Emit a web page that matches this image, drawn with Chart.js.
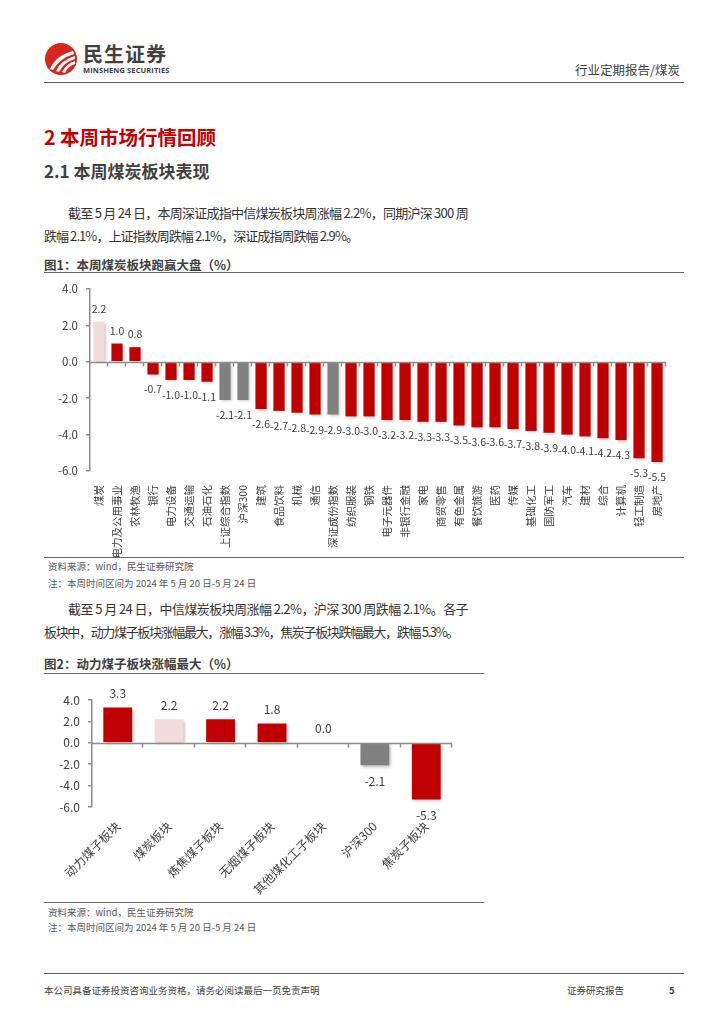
<!DOCTYPE html>
<html lang="zh-CN">
<head>
<meta charset="utf-8">
<script src="https://cdn.jsdelivr.net/npm/chart.js@4.4.1/dist/chart.umd.min.js"></script>
<style>
  html, body { margin: 0; padding: 0; background: #fff; }
  body {
    width: 724px; height: 1024px; position: relative; overflow: hidden;
    font-family: "Noto Sans CJK SC", "Noto Sans", sans-serif; color: #333;
  }
  .t { position: absolute; white-space: nowrap; }
  .rule { position: absolute; height: 0; border-top: 1.5px solid #666; }
  .para { font-size: 13px; line-height: 20px; color: #333; }
  .figTitle { font-size: 12.5px; line-height: 16px; font-weight: 700; color: #404040; }
  .src { font-size: 9.5px; line-height: 12px; color: #595959; }
  .foot { font-size: 9.5px; line-height: 14px; color: #404040; }
  canvas { position: absolute; }
</style>
</head>
<body>

<!-- header -->
<svg class="t" style="left:44px; top:42px;" width="36" height="36" viewBox="0 0 36 36">
  <circle cx="17" cy="17" r="16" fill="#d7261e"/>
  <path d="M6,27 Q12,13 29,9 L30,12 Q16,16 9,28 Z" fill="#fff"/>
  <path d="M12,29 Q17,18 31,14 L31,17 Q20,20 15,30 Z" fill="#fff"/>
  <path d="M18,30 Q22,22 31,19 L31,22 Q24,24 21,31 Z" fill="#fff"/>
</svg>
<div class="t" style="left:83px; top:42px; font-size:20px; line-height:24px; font-weight:700; color:#404040; letter-spacing:1px;">民生证券</div>
<div class="t" style="left:83px; top:66px; font-size:7.5px; line-height:9px; font-weight:700; color:#404040; font-family:'Open Sans',sans-serif; letter-spacing:0.1px;">MINSHENG SECURITIES</div>
<div class="t" style="right:44px; top:62px; font-size:12.5px; line-height:16px; color:#404040;">行业定期报告/煤炭</div>
<div class="rule" style="left:44px; top:82px; width:640px; border-color:#595959;"></div>

<!-- headings -->
<div class="t" style="left:44px; top:124px; font-size:19.5px; line-height:26px; font-weight:700; color:#c00000;">2 本周市场行情回顾</div>
<div class="t" style="left:44px; top:160px; font-size:17px; line-height:22px; font-weight:700; color:#404040;">2.1 本周煤炭板块表现</div>

<div class="t para" data-w="400" style="left:68px; top:203px;">截至 5 月 24 日，本周深证成指中信煤炭板块周涨幅 2.2%，同期沪深 300 周</div>
<div class="t para" data-w="314" style="left:44px; top:226px;">跌幅 2.1%，上证指数周跌幅 2.1%，深证成指周跌幅 2.9%。</div>

<!-- figure 1 -->
<div class="t figTitle" style="left:44px; top:257px;">图1：本周煤炭板块跑赢大盘（%）</div>
<div class="rule" style="left:44px; top:272px; width:640px;"></div>
<canvas id="chart1" width="640" height="283" style="left:44px; top:274px;"></canvas>
<div class="rule" style="left:44px; top:557px; width:640px;"></div>
<div class="t src" style="left:48px; top:560px;">资料来源：wind，民生证券研究院</div>
<div class="t src" style="left:48px; top:577px;">注：本周时间区间为 2024 年 5 月 20 日-5 月 24 日</div>

<div class="t para" data-w="400" style="left:68px; top:599px;">截至 5 月 24 日，中信煤炭板块周涨幅 2.2%，沪深 300 周跌幅 2.1%。各子</div>
<div class="t para" data-w="414" style="left:44px; top:622px;">板块中，动力煤子板块涨幅最大，涨幅 3.3%，焦炭子板块跌幅最大，跌幅 5.3%。</div>

<!-- figure 2 -->
<div class="t figTitle" style="left:44px; top:656px;">图2：动力煤子板块涨幅最大（%）</div>
<div class="rule" style="left:44px; top:673px; width:440px;"></div>
<canvas id="chart2" width="440" height="224" style="left:44px; top:676px;"></canvas>
<div class="rule" style="left:44px; top:902px; width:440px;"></div>
<div class="t src" style="left:48px; top:906px;">资料来源：wind，民生证券研究院</div>
<div class="t src" style="left:48px; top:921px;">注：本周时间区间为 2024 年 5 月 20 日-5 月 24 日</div>

<!-- footer -->
<div class="rule" style="left:44px; top:973px; width:640px; border-color:#595959;"></div>
<div class="t foot" style="left:44px; top:983px;">本公司具备证券投资咨询业务资格，请务必阅读最后一页免责声明</div>
<div class="t foot" style="left:567px; top:983px;">证券研究报告</div>
<div class="t foot" style="left:669px; top:983px; font-weight:700;">5</div>

<script>
// ------------------ Data ------------------
const sectors = ['煤炭', '电力及公用事业', '农林牧渔', '银行', '电力设备', '交通运输', '石油石化',
    '上证综合指数', '沪深300', '建筑', '食品饮料', '机械', '通信', '深证成份指数', '纺织服装', '钢铁',
    '电子元器件', '非银行金融', '家电', '商贸零售', '有色金属', '餐饮旅游', '医药', '传媒',
    '基础化工', '国防军工', '汽车', '建材', '综合', '计算机', '轻工制造', '房地产'];
const sectorChange = [2.2, 1.0, 0.8, -0.7, -1.0, -1.0, -1.1,
    -2.1, -2.1, -2.6, -2.7, -2.8, -2.9, -2.9, -3.0, -3.0,
    -3.2, -3.2, -3.3, -3.3, -3.5, -3.6, -3.6, -3.7,
    -3.8, -3.9, -4.0, -4.1, -4.2, -4.3, -5.3, -5.5];

const subSectors = ['动力煤子板块', '煤炭板块', '炼焦煤子板块', '无烟煤子板块', '其他煤化工子板块', '沪深300', '焦炭子板块'];
const subChange = [3.3, 2.2, 2.2, 1.8, 0.0, -2.1, -5.3];

const yTicks = [-6, -4, -2, 0, 2, 4];

// ------------------ Styles ------------------
const RED = '#c00000';
const PINK = '#f2dcdb';
const GREY = '#808080';
const AXIS = '#8c8c8c';
const TEXT = '#404040';
const FONT = '"Noto Sans CJK SC", "Noto Sans", sans-serif';
const indexNames = ['上证综合指数', '沪深300', '深证成份指数'];
const coalNames = ['煤炭', '煤炭板块'];

// stretch / squeeze body text lines to their column width
document.querySelectorAll('[data-w]').forEach(function(el) {
    const w = el.getBoundingClientRect().width;
    const n = el.textContent.length;
    el.style.letterSpacing = ((+el.dataset.w - w) / n) + 'px';
});

function barColour(name) {
    if (coalNames.includes(name)) return PINK;
    if (indexNames.includes(name)) return GREY;
    return RED;
}

// zero line with small ticks between categories
const zeroAxis = {
    id: 'zeroAxis',
    afterDatasetsDraw(chart) {
        const ctx = chart.ctx;
        const x = chart.scales.x;
        const y0 = Math.round(chart.scales.y.getPixelForValue(0)) + 0.5;
        const area = chart.chartArea;
        const step = (area.right - area.left) / chart.data.labels.length;
        ctx.save();
        ctx.strokeStyle = AXIS;
        ctx.lineWidth = 1.5;
        ctx.beginPath();
        ctx.moveTo(area.left, y0);
        ctx.lineTo(area.right, y0);
        for (let i = 1; i <= chart.data.labels.length; i++) {
            const px = Math.round(x.left + i * step) - 0.5;
            ctx.moveTo(px, y0);
            ctx.lineTo(px, y0 + 4);
        }
        ctx.stroke();
        ctx.restore();
    }
};

// soft shadow behind bars
const barShadow = {
    id: 'barShadow',
    beforeDatasetsDraw(chart) {
        const ctx = chart.ctx;
        ctx.save();
        ctx.shadowColor = 'rgba(0,0,0,0.28)';
        ctx.shadowBlur = 3;
        ctx.shadowOffsetX = 1.5;
        ctx.shadowOffsetY = 1.5;
    },
    afterDatasetsDraw(chart) {
        chart.ctx.restore();
    }
};

// value labels above / below the bars
const valueLabels = {
    id: 'valueLabels',
    afterDatasetsDraw(chart, args, opts) {
        const ctx = chart.ctx;
        const meta = chart.getDatasetMeta(0);
        const values = chart.data.datasets[0].data;
        ctx.save();
        ctx.font = opts.size + 'px ' + FONT;
        ctx.fillStyle = TEXT;
        ctx.textAlign = 'center';
        ctx.textBaseline = 'middle';
        meta.data.forEach(function(bar, i) {
            const v = values[i];
            const y = v >= 0 ? bar.y - opts.above : bar.y + opts.below;
            ctx.fillText(v.toFixed(1), bar.x, y);
        });
        ctx.restore();
    }
};

function makeChart(id, labels, values, cfg) {
    const ctx = document.getElementById(id).getContext('2d');
    return new Chart(ctx, {
        type: 'bar',
        data: {
            labels: labels,
            datasets: [{
                data: values,
                backgroundColor: labels.map(barColour),
                borderWidth: 0,
                barPercentage: cfg.barPct,
                categoryPercentage: 1
            }]
        },
        options: {
            responsive: false,
            animation: false,
            devicePixelRatio: 1,
            layout: { padding: { top: cfg.top, right: cfg.right, left: 0, bottom: 0 } },
            plugins: {
                legend: { display: false },
                tooltip: { enabled: false },
                valueLabels: { size: cfg.valueSize, above: cfg.above, below: cfg.below }
            },
            scales: {
                x: {
                    offset: true,
                    grid: { display: false },
                    border: { display: false },
                    ticks: {
                        autoSkip: false,
                        minRotation: cfg.rotation,
                        maxRotation: cfg.rotation,
                        padding: cfg.xPad,
                        color: TEXT,
                        font: { family: FONT, size: cfg.xSize }
                    },
                    afterFit: function(s) { s.height = cfg.xHeight; }
                },
                y: {
                    min: yTicks[0],
                    max: yTicks[yTicks.length - 1],
                    afterBuildTicks: function(s) { s.ticks = yTicks.map(v => ({ value: v })); },
                    grid: { drawOnChartArea: false, drawTicks: true, tickLength: 4, color: AXIS, lineWidth: 1.5 },
                    border: { display: true, color: AXIS, width: 1.5 },
                    ticks: {
                        padding: 8,
                        color: TEXT,
                        font: { family: FONT, size: cfg.ySize },
                        callback: v => Number(v).toFixed(1)
                    },
                    afterFit: function(s) { s.width = cfg.yWidth; }
                }
            }
        },
        plugins: [barShadow, zeroAxis, valueLabels]
    });
}

makeChart('chart1', sectors, sectorChange, {
    barPct: 0.62, top: 8, right: 18, rotation: 90, xPad: 6, xSize: 10.5, xHeight: 86,
    ySize: 11.5, yWidth: 46, valueSize: 10.5, above: 13, below: 15
});

makeChart('chart2', subSectors, subChange, {
    barPct: 0.56, top: 24, right: 32, rotation: 45, xPad: 4, xSize: 12, xHeight: 93,
    ySize: 12, yWidth: 48, valueSize: 12, above: 14, below: 16
});
</script>
</body>
</html>
